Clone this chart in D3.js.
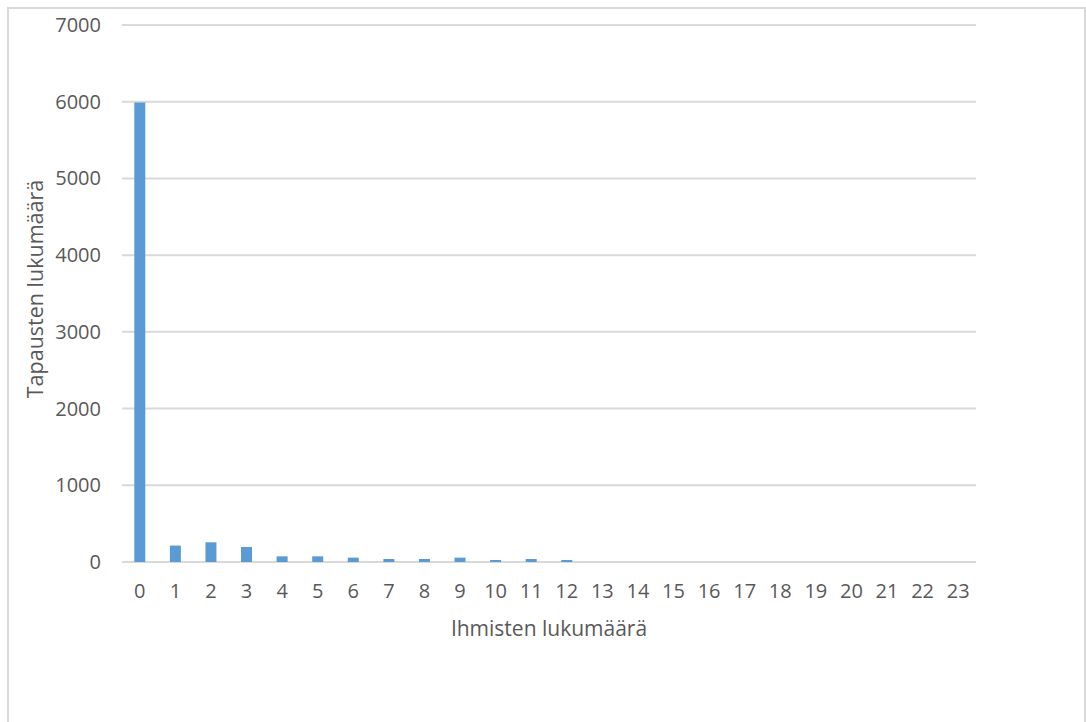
<!DOCTYPE html>
<html>
<head>
<meta charset="utf-8">
<script src="https://cdn.jsdelivr.net/npm/d3@7"></script>
<style>
  html, body { margin: 0; padding: 0; background: #fff; }
  svg { display: block; }
  text { font-family: "Open Sans", "Liberation Sans", sans-serif; fill: #595959; }
</style>
</head>
<body>
<svg id="chart" width="1086" height="722"></svg>
<script>
// Number of people (category) and number of cases
const categories = d3.range(0, 24).map(String);
const cases = [5990, 214, 257, 196, 74, 74, 57, 39, 39, 57, 26, 39, 26, 0, 0, 0, 0, 0, 0, 0, 0, 0, 0, 0];
const yTicks = [0, 1000, 2000, 3000, 4000, 5000, 6000, 7000];
const xTitle = "Ihmisten lukumäärä";
const yTitle = "Tapausten lukumäärä";

const svg = d3.select("#chart");
const W = 1086, H = 722;

// chart frame
svg.append("rect")
  .attr("x", 8).attr("y", 8)
  .attr("width", W - 9).attr("height", H + 10)
  .attr("fill", "#fff")
  .attr("stroke", "#d9d9d9")
  .attr("stroke-width", 2);

const plot = { left: 122, right: 976, top: 25, bottom: 562 };

const xc = d3.scaleBand().domain(categories).range([plot.left, plot.right]);

const y = d3.scaleLinear()
  .domain([0, 7000])
  .range([plot.bottom, plot.top]);

// horizontal gridlines
svg.append("g")
  .selectAll("line")
  .data(yTicks)
  .join("line")
  .attr("x1", plot.left).attr("x2", plot.right)
  .attr("y1", d => y(d)).attr("y2", d => y(d))
  .attr("stroke", "#d9d9d9")
  .attr("stroke-width", 2);

// y tick labels
svg.append("g")
  .selectAll("text")
  .data(yTicks)
  .join("text")
  .attr("x", 101)
  .attr("y", d => y(d))
  .attr("dy", "0.35em")
  .attr("text-anchor", "end")
  .style("font-size", "20px")
  .text(d => d);

// bars
svg.append("g")
  .selectAll("rect")
  .data(cases.map((v, i) => ({ c: categories[i], v })))
  .join("rect")
  .attr("x", d => xc(d.c) + xc.bandwidth() / 2 - 5.5)
  .attr("width", 11)
  .attr("y", d => y(d.v))
  .attr("height", d => y(0) - y(d.v))
  .attr("fill", "#5b9bd5");

// x tick labels
svg.append("g")
  .selectAll("text")
  .data(categories)
  .join("text")
  .attr("x", d => xc(d) + xc.bandwidth() / 2)
  .attr("y", 598)
  .attr("text-anchor", "middle")
  .style("font-size", "20px")
  .text(d => d);

// axis titles
svg.append("text")
  .attr("x", 549)
  .attr("y", 636)
  .attr("text-anchor", "middle")
  .style("font-size", "21px")
  .text(xTitle);

svg.append("text")
  .attr("transform", "translate(43,289) rotate(-90)")
  .attr("text-anchor", "middle")
  .style("font-size", "21.5px")
  .text(yTitle);
</script>
</body>
</html>
